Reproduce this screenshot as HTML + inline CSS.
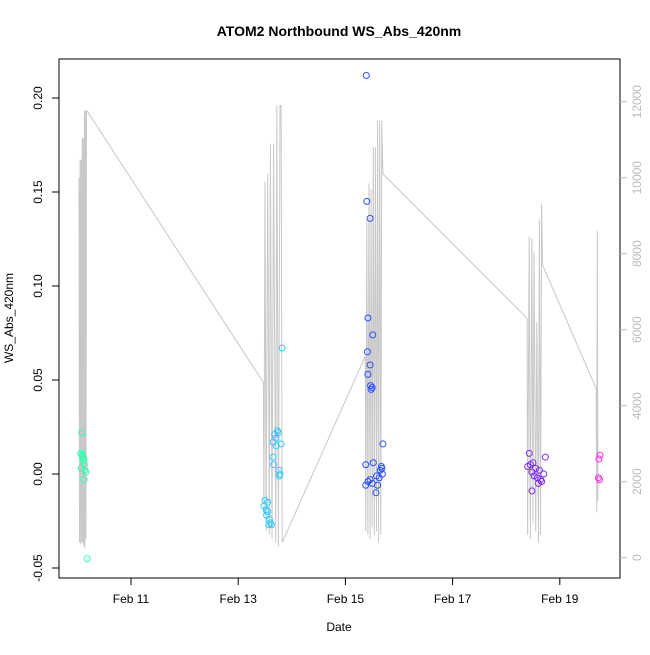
<!DOCTYPE html>
<html><head><meta charset="utf-8"><style>
body{margin:0;background:#fff}
svg{font-family:"Liberation Sans",sans-serif}
</style></head><body>
<svg id="c" width="650" height="650" xmlns="http://www.w3.org/2000/svg"></svg>
<script>
// data: days since Feb 10 00:00
const lineDays=[0.03,0.04,0.05,0.06,0.07,0.08,0.09,0.10,0.11,0.12,0.13,0.14,0.15,0.16,0.17,0.18,
 3.47,3.48,3.50,3.52,3.55,3.58,3.60,3.63,3.66,3.70,3.72,3.75,3.78,3.80,3.82,
 5.37,5.38,5.40,5.42,5.44,5.46,5.48,5.50,5.52,5.54,5.56,5.58,5.60,5.62,5.64,5.66,5.68,5.70,
 8.39,8.40,8.43,8.45,8.48,8.50,8.52,8.55,8.57,8.60,8.62,8.64,8.66,8.68,
 9.68,9.69,9.70,9.71];
const lineVals=[10000,400,10470,350,10470,420,11040,380,11040,300,11760,250,11760,500,11760,11760,
 4610,1100,9900,700,10100,600,10900,500,10900,400,11900,300,11900,11900,400,
 5300,700,8900,600,9850,500,9700,800,10800,600,10800,700,11500,400,11500,600,11500,10100,
 6300,600,8450,500,8400,900,8050,700,6200,400,8900,600,9320,7700,
 4450,1200,8600,1500];
const c1Days=[0.08,0.06,0.09,0.10,0.12,0.11,0.13,0.07,0.14,0.16,0.12,0.18];
const c1Vals=[0.022,0.011,0.010,0.009,0.008,0.007,0.005,0.003,0.002,0.001,-0.003,-0.045];
const c2Days=[3.82,3.73,3.75,3.68,3.70,3.65,3.80,3.71,3.65,3.66,3.76,3.78,3.77,3.50,3.55,3.48,3.52,3.55,3.53,3.58,3.60,3.62,3.57];
const c2Vals=[0.067,0.023,0.022,0.021,0.019,0.017,0.016,0.015,0.009,0.005,0.002,0.000,-0.001,-0.014,-0.015,-0.017,-0.019,-0.020,-0.022,-0.024,-0.026,-0.027,-0.027];
const c3Days=[5.39,5.40,5.46,5.42,5.51,5.41,5.46,5.42,5.47,5.50,5.48,5.70,5.52,5.38,5.67,5.68,5.65,5.69,5.58,5.63,5.46,5.42,5.50,5.38,5.60,5.57];
const c3Vals=[0.212,0.145,0.136,0.083,0.074,0.065,0.058,0.053,0.047,0.046,0.045,0.016,0.006,0.005,0.004,0.003,0.002,0.000,-0.001,-0.002,-0.003,-0.004,-0.005,-0.006,-0.006,-0.010];
const c4Days=[8.43,8.73,8.50,8.45,8.40,8.55,8.62,8.48,8.70,8.52,8.58,8.64,8.66,8.60,8.48];
const c4Vals=[0.011,0.009,0.006,0.005,0.004,0.003,0.002,0.001,0.000,-0.001,-0.002,-0.003,-0.004,-0.005,-0.009];
const c5Days=[9.75,9.73,9.72,9.74];
const c5Vals=[0.010,0.008,-0.002,-0.003];
const xTickDays=[1,3,5,7,9];
const xTickLabels=["Feb 11","Feb 13","Feb 15","Feb 17","Feb 19"];
const yTicks=[-0.05,0,0.05,0.10,0.15,0.20];
const yTickLabels=["-0.05","0.00","0.05","0.10","0.15","0.20"];
const rTicks=[0,2000,4000,6000,8000,10000,12000];

const x=d=>77.4+d*53.6;
const y=v=>474-v*1880;
const yr=v=>557.7-v*0.038;
const svg=document.getElementById('c');
const NS="http://www.w3.org/2000/svg";
function mk(t,a,txt){const e=document.createElementNS(NS,t);for(const k in a)e.setAttribute(k,a[k]);if(txt!=null)e.textContent=txt;svg.appendChild(e);return e;}

let e=mk('rect',{x:59,y:59,width:561,height:519,fill:'none',stroke:'#000','stroke-width':1});



let pts=lineDays.map((d,i)=>x(d).toFixed(1)+','+yr(lineVals[i]).toFixed(1)).join(' ');
e=mk('polyline',{points:pts,fill:'none',stroke:'#c8c8c8','stroke-width':1});



const groups=[[c1Days,c1Vals,'#33ffad','cluster-feb10'],[c2Days,c2Vals,'#33c8ff','cluster-feb13'],[c3Days,c3Vals,'#2a4fff','cluster-feb15'],[c4Days,c4Vals,'#7a2bff','cluster-feb18'],[c5Days,c5Vals,'#ff2bf0','cluster-feb19']];
groups.forEach(g=>{g[0].forEach((d,i)=>{
  const p=mk('circle',{cx:x(d),cy:y(g[1][i]),r:3,fill:'none',stroke:g[2],'stroke-width':1});
  
  
});});

mk('line',{x1:x(1),x2:x(9),y1:578,y2:578,stroke:'#000'});
xTickDays.forEach((d,i)=>{
  mk('line',{x1:x(d),x2:x(d),y1:578,y2:585,stroke:'#000'});
  const t=mk('text',{x:x(d),y:603,'font-size':12,'text-anchor':'middle'},xTickLabels[i]);
  
  
});
mk('line',{x1:59,x2:59,y1:y(-0.05),y2:y(0.2),stroke:'#000'});
yTicks.forEach((v,i)=>{
  mk('line',{x1:52,x2:59,y1:y(v),y2:y(v),stroke:'#000'});
  const t=mk('text',{x:42,y:y(v),'font-size':12,'text-anchor':'middle',transform:`rotate(-90 42 ${y(v)})`},yTickLabels[i]);
  
  
});
rTicks.forEach(v=>{
  mk('line',{x1:620,x2:627,y1:yr(v),y2:yr(v),stroke:'#bbb'});
  const t=mk('text',{x:641,y:yr(v),'font-size':12,fill:'#bbb','text-anchor':'middle',transform:`rotate(-90 641 ${yr(v)})`},String(v));
  
  
});
e=mk('text',{x:339,y:36,'font-size':14,'font-weight':'bold','text-anchor':'middle'},'ATOM2 Northbound WS_Abs_420nm');


e=mk('text',{x:339,y:631,'font-size':12,'text-anchor':'middle'},'Date');


e=mk('text',{x:13,y:318,'font-size':12,'text-anchor':'middle',transform:'rotate(-90 13 318)'},'WS_Abs_420nm');


</script>
</body></html>
